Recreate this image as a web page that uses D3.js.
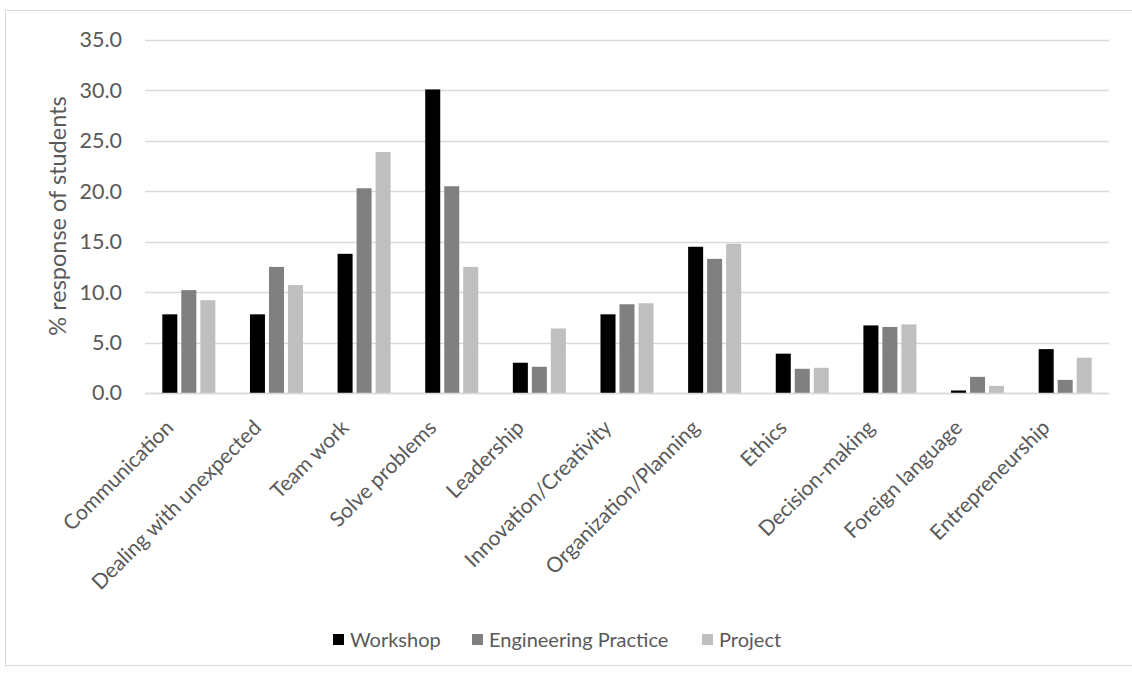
<!DOCTYPE html>
<html>
<head>
<meta charset="utf-8">
<script src="https://cdn.jsdelivr.net/npm/d3@7"></script>
<style>
  body { margin: 0; background: #fff; }
  text { font-family: Lato, "Open Sans", sans-serif; fill: #595959; }
</style>
</head>
<body>
<script>
// categories
const categories = [
    'Communication',
    'Dealing with unexpected',
    'Team work',
    'Solve problems',
    'Leadership',
    'Innovation/Creativity',
    'Organization/Planning',
    'Ethics',
    'Decision-making',
    'Foreign language',
    'Entrepreneurship'
];

// series
const seriesNames = ['Workshop', 'Engineering Practice', 'Project'];
const workshop = [7.8, 7.8, 13.8, 30.1, 3.0, 7.8, 14.5, 3.9, 6.7, 0.25, 4.35];
const engineering = [10.2, 12.5, 20.3, 20.5, 2.6, 8.8, 13.3, 2.4, 6.55, 1.6, 1.3];
const project = [9.2, 10.7, 23.9, 12.5, 6.4, 8.9, 14.8, 2.5, 6.8, 0.7, 3.5];

// y axis ticks
const yTicks = [0, 5, 10, 15, 20, 25, 30, 35];

const width = 1132;
const height = 673;
const plot = { left: 145, right: 1109, top: 40, bottom: 393 };
const colors = ['#000000', '#808080', '#bfbfbf'];

const values = [workshop, engineering, project];

const svg = d3.select('body')
    .append('svg')
    .attr('width', width)
    .attr('height', height);

// outer chart border
svg.append('rect')
    .attr('x', 5.5)
    .attr('y', 10.5)
    .attr('width', 1140)
    .attr('height', 655)
    .attr('fill', 'none')
    .attr('stroke', '#d9d9d9');

// scales
const x0 = d3.scaleBand()
    .domain(categories)
    .range([plot.left, plot.right])
    .paddingInner(0.395)
    .paddingOuter(0.1975);

const x1 = d3.scaleBand()
    .domain(seriesNames)
    .range([0, x0.bandwidth()])
    .paddingInner(0.21);

const y = d3.scaleLinear()
    .domain([0, 35])
    .range([plot.bottom, plot.top]);

// gridlines
svg.append('g')
    .selectAll('line')
    .data(yTicks)
    .enter()
    .append('line')
    .attr('x1', plot.left)
    .attr('x2', plot.right)
    .attr('y1', d => Math.round(y(d)) + 0.5)
    .attr('y2', d => Math.round(y(d)) + 0.5)
    .attr('stroke', '#d9d9d9')
    .attr('stroke-width', 1.5);

// y axis labels
const yAxis = d3.axisLeft(y)
    .tickValues(yTicks)
    .tickFormat(d3.format('.1f'))
    .tickSize(0)
    .tickPadding(23);

const yg = svg.append('g')
    .attr('transform', 'translate(' + plot.left + ',0)')
    .call(yAxis);
yg.select('.domain').remove();
yg.selectAll('text')
    .attr('font-size', 21.5)
    .attr('fill', '#595959');

// bars
const groups = svg.append('g')
    .selectAll('g')
    .data(seriesNames)
    .enter()
    .append('g')
    .attr('fill', (d, i) => colors[i]);

groups.selectAll('rect')
    .data((s, i) => categories.map((c, j) => ({ cat: c, series: s, v: values[i][j] })))
    .enter()
    .append('rect')
    .attr('x', d => x0(d.cat) + x1(d.series))
    .attr('width', x1.bandwidth())
    .attr('y', d => y(d.v))
    .attr('height', d => y(0) - y(d.v));

// x axis (baseline + rotated labels)
const xAxis = d3.axisBottom(x0)
    .tickSize(0)
    .tickPadding(0);

const xg = svg.append('g')
    .attr('transform', 'translate(0,' + plot.bottom + ')')
    .call(xAxis);
xg.select('.domain')
    .attr('stroke', '#d9d9d9')
    .attr('stroke-width', 1.5);
xg.selectAll('text')
    .attr('font-size', 21)
    .attr('fill', '#595959')
    .attr('text-anchor', 'end')
    .attr('dy', 0)
    .attr('transform', 'translate(-14,36) rotate(-45)');

// y title
svg.append('text')
    .attr('transform', 'translate(66,216) rotate(-90)')
    .attr('text-anchor', 'middle')
    .attr('font-size', 23.5)
    .text('% response of students');

// legend
const legendX = [333, 472, 702];
const legend = svg.append('g')
    .selectAll('g')
    .data(seriesNames)
    .enter()
    .append('g')
    .attr('transform', (d, i) => 'translate(' + legendX[i] + ',640)');

legend.append('rect')
    .attr('x', 0)
    .attr('y', -6)
    .attr('width', 11)
    .attr('height', 11)
    .attr('fill', (d, i) => colors[i]);

legend.append('text')
    .attr('x', 17)
    .attr('y', 7)
    .attr('font-size', 20)
    .text(d => d);
</script>
</body>
</html>
